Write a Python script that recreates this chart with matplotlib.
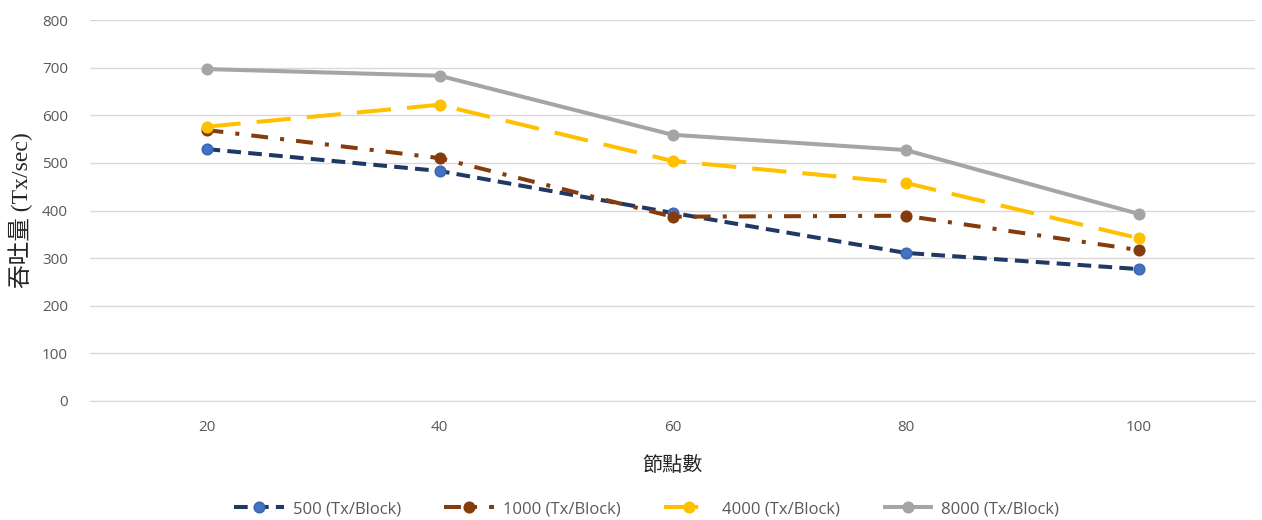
import matplotlib
matplotlib.use("Agg")
import matplotlib.pyplot as plt

# Throughput vs. number of nodes, for several block sizes
nodes = ["20", "40", "60", "80", "100"]
series_names = ["500 (Tx/Block)", "1000 (Tx/Block)", "4000 (Tx/Block)", "8000 (Tx/Block)"]
tp_500 = [529, 483, 395, 311, 277]
tp_1000 = [569, 510, 387, 389, 317]
tp_4000 = [576, 622, 504, 458, 342]
tp_8000 = [697, 683, 559, 527, 393]
y_ticks = [0, 100, 200, 300, 400, 500, 600, 700, 800]

fig = plt.figure(figsize=(12.62, 5.2), dpi=100)
ax = fig.add_axes([90 / 1262, 1 - 401 / 520, (1255 - 90) / 1262, (401 - 20) / 520])

x = list(range(len(nodes)))
styles = [
    dict(color="#203864", mfc="#4472C4", mec="#3D67B1", ls=(0, (3.4, 1.8)), data=tp_500),
    dict(color="#843C0C", mfc="#843C0C", mec="#843C0C", ls=(0, (4.2, 3.0, 1.0, 3.0)), data=tp_1000),
    dict(color="#FFC000", mfc="#FFC000", mec="#FFC000", ls=(0, (8.5, 4.0)), data=tp_4000),
    dict(color="#A5A5A5", mfc="#A5A5A5", mec="#A5A5A5", ls="-", data=tp_8000),
]
for name, st in zip(series_names, styles):
    ax.plot(x, st["data"], color=st["color"], lw=2.9, ls=st["ls"],
            marker="o", ms=7.5, mfc=st["mfc"], mec=st["mec"], mew=1.2,
            label=name, solid_capstyle="butt", dash_capstyle="butt")

ax.set_xlim(-0.5, len(nodes) - 0.5)
ax.set_ylim(0, 800)
ax.set_xticks(x)
ax.set_xticklabels(nodes)
ax.set_yticks(y_ticks)
ax.grid(axis="y", color="#D9D9D9", lw=1)
ax.set_axisbelow(True)
for side in ["top", "right", "left"]:
    ax.spines[side].set_visible(False)
ax.spines["bottom"].set_color("#D9D9D9")
ax.tick_params(length=0, labelsize=11, colors="#595959")
ax.tick_params(axis="x", pad=14)
ax.tick_params(axis="y", pad=16)
for lab in ax.get_xticklabels() + ax.get_yticklabels():
    lab.set_family(["Open Sans", "DejaVu Sans"])

ax.set_ylabel("吞吐量 (Tx/sec)", family=["Liberation Serif", "Noto Sans CJK TC"],
              fontsize=17, color="#262626", labelpad=6)
ax.set_xlabel("節點數", family=["Noto Sans CJK TC"], fontsize=14.5, color="#262626", labelpad=14)

leg = ax.legend(loc="center", bbox_to_anchor=(0.478, (401 - 509) / 381), ncol=4,
                frameon=False, handlelength=3.0, handletextpad=0.5, columnspacing=2.6,
                prop={"family": ["Open Sans", "DejaVu Sans"], "size": 12})
for t in leg.get_texts():
    t.set_color("#595959")

fig.savefig("out.png", dpi=100)
